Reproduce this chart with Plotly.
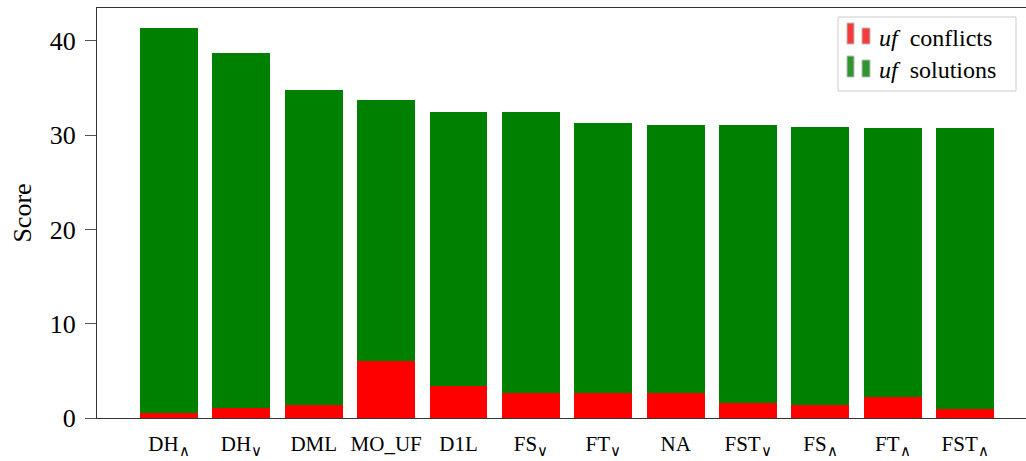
import plotly.graph_objects as go

categories = ["DH<sub>∧</sub>", "DH<sub>∨</sub>", "DML", "MO_UF", "D1L", "FS<sub>∨</sub>",
              "FT<sub>∨</sub>", "NA", "FST<sub>∨</sub>", "FS<sub>∧</sub>", "FT<sub>∧</sub>", "FST<sub>∧</sub>"]
conflicts = [0.5, 1.1, 1.4, 6.0, 3.4, 2.6, 2.6, 2.6, 1.6, 1.4, 2.2, 1.0]
solutions = [40.9, 37.6, 33.4, 27.7, 29.1, 29.9, 28.7, 28.5, 29.5, 29.5, 28.6, 29.8]
y_ticks = [0, 10, 20, 30, 40]

W, H = 1026, 461
L, R, T, B = 97, 0, 8, 43
FONT = "Liberation Serif"

fig = go.Figure()
fig.add_trace(go.Bar(x=categories, y=conflicts, marker=dict(color="#ff0000", line=dict(width=0)),
                     width=0.8, showlegend=False))
fig.add_trace(go.Bar(x=categories, y=solutions, marker=dict(color="#008000", line=dict(width=0)),
                     width=0.8, showlegend=False))

pw, ph = W - L - R, H - T - B
def px(x):
    return (x - L) / pw
def py(y):
    return (H - B - y) / ph

shapes = []
annotations = []
# legend box
shapes.append(dict(type="rect", xref="paper", yref="paper", x0=px(838), x1=px(1016), y0=py(91), y1=py(17),
                   line=dict(color="#cccccc", width=1), fillcolor="white", layer="above"))
legend_items = [("<i>uf</i>  conflicts", "#f53b3b", 23, 28, 44, 38),
                ("<i>uf</i>  solutions", "#2f962f", 56, 60, 77, 70)]
for text, col, t1, t2, bot, cy in legend_items:
    shapes.append(dict(type="rect", xref="paper", yref="paper", x0=px(847), x1=px(854), y0=py(bot), y1=py(t1),
                       line=dict(color="#bbbbbb", width=1), fillcolor=col, layer="above"))
    shapes.append(dict(type="rect", xref="paper", yref="paper", x0=px(862), x1=px(870), y0=py(bot), y1=py(t2),
                       line=dict(color="#bbbbbb", width=1), fillcolor=col, layer="above"))
    annotations.append(dict(text=text, xref="paper", yref="paper", x=px(877), y=py(cy), xanchor="left",
                            yanchor="middle", showarrow=False, font=dict(family=FONT, size=24, color="black")))

fig.update_layout(
    width=W, height=H, margin=dict(l=L, r=R, t=T, b=B, autoexpand=False),
    barmode="stack", bargap=0.2,
    plot_bgcolor="white", paper_bgcolor="white",
    font=dict(family=FONT, color="black"),
    shapes=shapes, annotations=annotations,
    xaxis=dict(range=[-0.995, 11.84], showline=True, linecolor="#333333", linewidth=1, mirror=True,
               ticks="", showgrid=False, tickfont=dict(family=FONT, size=21), ticklabelstandoff=7,
               fixedrange=True, automargin=False),
    yaxis=dict(range=[0, 43.5], tickvals=y_ticks, showline=True, linecolor="#333333", linewidth=1,
               ticks="outside", ticklen=11, tickcolor="#555555", showgrid=False, zeroline=False,
               tickfont=dict(family=FONT, size=26), ticklabelstandoff=4, automargin=False,
               title=dict(text="Score", font=dict(family=FONT, size=26), standoff=10)),
)

fig.write_html("out.html")
